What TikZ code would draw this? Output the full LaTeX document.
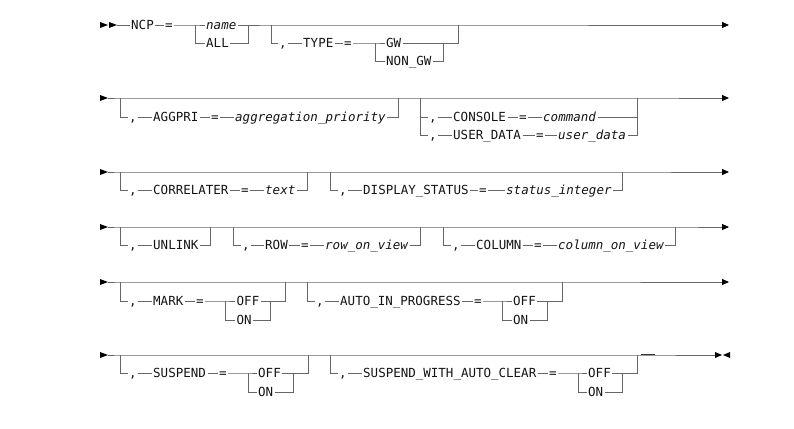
\documentclass[tikz,border=0pt]{standalone}
\usepackage{fontspec}
\usetikzlibrary{arrows.meta}
\newfontfamily\synfont{DejaVu Sans Mono}
\begin{document}
\begin{tikzpicture}[x=1pt,y=-1pt,
  track/.style={draw=black!60,line width=0.8pt},
  ends/.style={track,-{Triangle[length=7pt,width=6pt,color=black]}},
  kw/.style={font=\synfont\fontsize{12.5pt}{14pt}\selectfont,text=black!92,
     inner xsep=1.5pt,inner ysep=0pt,text height=9pt,text depth=0pt,anchor=west},
  var/.style={kw,font=\synfont\itshape\fontsize{12.5pt}{14pt}\selectfont},
  sym/.style={kw,anchor=center},
]
\useasboundingbox (0,0) rectangle (794,428);

% ---------- NCP = name|ALL [,TYPE = GW|NON_GW]
\fill (100,22) -- (108,25) -- (100,28) -- cycle;
\fill (109,22) -- (117,25) -- (109,28) -- cycle;
\coordinate (r1s) at (117,25);
\node[kw] (ncp) at (129.5,25) {NCP};
\node[sym] (eq11) at (169,25) {=};
\coordinate (ch11) at (195,25);
\node[var] (name) at (204.5,25) {name};
\node[kw] (all) at (204.5,43) {ALL};
\coordinate (ch11e) at (248,25);
\coordinate (o11) at (271,25);
\node[sym] (cm11) at (283,43) {,};
\node[kw] (type) at (301.5,43) {TYPE};
\node[sym] (eq12) at (348,43) {=};
\coordinate (ch12) at (375,43);
\node[kw] (gw) at (384.5,43) {GW};
\node[kw] (nongw) at (384.5,61) {NON\_GW};
\coordinate (ch12e) at (443,43);
\coordinate (o11e) at (458,25);
\coordinate (r1e) at (729,25);
\draw[track] (r1s) -- (ncp) -- (eq11) -- (ch11) -- (name) -- (ch11e);
\draw[track] (ch11) |- (all) -| (ch11e);
\draw[ends] (ch11e) -- (o11) -- (o11e) -- (r1e);
\draw[track] (o11) |- (cm11) -- (type) -- (eq12) -- (ch12) -- (gw) -| (o11e);
\draw[track] (ch12) |- (nongw) -| (ch12e);

% ---------- [,AGGPRI = ...] [,CONSOLE = ... | ,USER_DATA = ...]
\fill (100,95) -- (108,98) -- (100,101) -- cycle;
\coordinate (r2s) at (108,98);
\coordinate (o21) at (120,98);
\node[sym] (cm21) at (133,117) {,};
\node[kw] (aggpri) at (151.5,117) {AGGPRI};
\node[sym] (eq21) at (215,117) {=};
\node[var] (aggval) at (233.5,117) {aggregation\_priority};
\coordinate (o21e) at (398,98);
\coordinate (o22) at (420,98);
\node[sym] (cm22) at (433,117) {,};
\node[kw] (console) at (451.5,117) {CONSOLE};
\node[sym] (eq22) at (523,117) {=};
\node[var] (command) at (541.5,117) {command};
\node[sym] (cm23) at (433,135) {,};
\node[kw] (userdata) at (451.5,135) {USER\_DATA};
\node[sym] (eq23) at (540,135) {=};
\node[var] (udval) at (556.5,135) {user\_data};
\coordinate (o22e) at (637,98);
\coordinate (r2e) at (729,98);
\draw[ends] (r2s) -- (o21) -- (o21e) -- (o22) -- (o22e) -- (r2e);
\draw[track] (o21) |- (cm21) -- (aggpri) -- (eq21) -- (aggval) -| (o21e);
\draw[track] (o22) |- (cm22) -- (console) -- (eq22) -- (command) -| (o22e);
\draw[track] (o22) |- (cm23) -- (userdata) -- (eq23) -- (udval) -| (o22e);

% ---------- [,CORRELATER = text] [,DISPLAY_STATUS = status_integer]
\fill (100,169) -- (108,172) -- (100,175) -- cycle;
\coordinate (r3s) at (108,172);
\coordinate (o31) at (120,172);
\node[sym] (cm31) at (133,190) {,};
\node[kw] (correlater) at (151.5,190) {CORRELATER};
\node[sym] (eq31) at (245,190) {=};
\node[var] (textval) at (263.5,190) {text};
\coordinate (o31e) at (307,172);
\coordinate (o32) at (330,172);
\node[sym] (cm32) at (343,190) {,};
\node[kw] (dispstat) at (361.5,190) {DISPLAY\_STATUS};
\node[sym] (eq32) at (483,190) {=};
\node[var] (statint) at (504.5,190) {status\_integer};
\coordinate (o32e) at (622,172);
\coordinate (r3e) at (729,172);
\draw[ends] (r3s) -- (o31) -- (o31e) -- (o32) -- (o32e) -- (r3e);
\draw[track] (o31) |- (cm31) -- (correlater) -- (eq31) -- (textval) -| (o31e);
\draw[track] (o32) |- (cm32) -- (dispstat) -- (eq32) -- (statint) -| (o32e);

% ---------- [,UNLINK] [,ROW = row_on_view] [,COLUMN = column_on_view]
\fill (100,224) -- (108,227) -- (100,230) -- cycle;
\coordinate (r4s) at (108,227);
\coordinate (o41) at (120,227);
\node[sym] (cm41) at (133,245) {,};
\node[kw] (unlink) at (151.5,245) {UNLINK};
\coordinate (o41e) at (210,227);
\coordinate (o42) at (233,227);
\node[sym] (cm42) at (246,245) {,};
\node[kw] (row) at (263.5,245) {ROW};
\node[sym] (eq42) at (305,245) {=};
\node[var] (rowval) at (323.5,245) {row\_on\_view};
\coordinate (o42e) at (420,227);
\coordinate (o43) at (443,227);
\node[sym] (cm43) at (456,245) {,};
\node[kw] (column) at (474.5,245) {COLUMN};
\node[sym] (eq43) at (538,245) {=};
\node[var] (colval) at (556.5,245) {column\_on\_view};
\coordinate (o43e) at (675,227);
\coordinate (r4e) at (729,227);
\draw[ends] (r4s) -- (o41) -- (o41e) -- (o42) -- (o42e) -- (o43) -- (o43e) -- (r4e);
\draw[track] (o41) |- (cm41) -- (unlink) -| (o41e);
\draw[track] (o42) |- (cm42) -- (row) -- (eq42) -- (rowval) -| (o42e);
\draw[track] (o43) |- (cm43) -- (column) -- (eq43) -- (colval) -| (o43e);

% ---------- [,MARK = OFF|ON] [,AUTO_IN_PROGRESS = OFF|ON]
\fill (100,279) -- (108,282) -- (100,285) -- cycle;
\coordinate (r5s) at (108,282);
\coordinate (o51) at (120,282);
\node[sym] (cm51) at (133,301) {,};
\node[kw] (mark) at (151.5,301) {MARK};
\node[sym] (eq51) at (200,301) {=};
\coordinate (ch51) at (225,301);
\node[kw] (off51) at (235,301) {OFF};
\node[kw] (on51) at (235,320) {ON};
\coordinate (ch51e) at (270,301);
\coordinate (o51e) at (285,282);
\coordinate (o52) at (307,282);
\node[sym] (cm52) at (320,301) {,};
\node[kw] (autoip) at (338.5,301) {AUTO\_IN\_PROGRESS};
\node[sym] (eq52) at (478,301) {=};
\coordinate (ch52) at (502,301);
\node[kw] (off52) at (511.5,301) {OFF};
\node[kw] (on52) at (511.5,320) {ON};
\coordinate (ch52e) at (547,301);
\coordinate (o52e) at (562,282);
\coordinate (r5e) at (729,282);
\draw[ends] (r5s) -- (o51) -- (o51e) -- (o52) -- (o52e) -- (r5e);
\draw[track] (o51) |- (cm51) -- (mark) -- (eq51) -- (ch51) -- (off51) -| (o51e);
\draw[track] (ch51) |- (on51) -| (ch51e);
\draw[track] (o52) |- (cm52) -- (autoip) -- (eq52) -- (ch52) -- (off52) -| (o52e);
\draw[track] (ch52) |- (on52) -| (ch52e);

% ---------- [,SUSPEND = OFF|ON] [,SUSPEND_WITH_AUTO_CLEAR = OFF|ON]
\fill (100,352) -- (108,355) -- (100,358) -- cycle;
\coordinate (r6s) at (108,355);
\coordinate (o61) at (120,355);
\node[sym] (cm61) at (133,373) {,};
\node[kw] (suspend) at (151.5,373) {SUSPEND};
\node[sym] (eq61) at (223,373) {=};
\coordinate (ch61) at (248,373);
\node[kw] (off61) at (256.5,373) {OFF};
\node[kw] (on61) at (256.5,392) {ON};
\coordinate (ch61e) at (293,373);
\coordinate (o61e) at (308,355);
\coordinate (o62) at (330,355);
\node[sym] (cm62) at (343,373) {,};
\node[kw] (swac) at (361.5,373) {SUSPEND\_WITH\_AUTO\_CLEAR};
\node[sym] (eq62) at (553,373) {=};
\coordinate (ch62) at (578,373);
\node[kw] (off62) at (586.5,373) {OFF};
\node[kw] (on62) at (586.5,392) {ON};
\coordinate (ch62e) at (622,373);
\coordinate (o62e) at (637,355);
\coordinate (r6e) at (715,355);
\draw[track] (r6s) -- (o61) -- (o61e) -- (o62) -- (o62e) -- (r6e);
\draw[track] (o61) |- (cm61) -- (suspend) -- (eq61) -- (ch61) -- (off61) -| (o61e);
\draw[track] (ch61) |- (on61) -| (ch61e);
\draw[track] (o62) |- (cm62) -- (swac) -- (eq62) -- (ch62) -- (off62) -| (o62e);
\draw[track] (ch62) |- (on62) -| (ch62e);
\draw[black!80,line width=1.1pt] (641,354.6) -- (655,354.6);
% end of statement
\fill (715,352) -- (722,355) -- (715,358) -- cycle;
\fill (730,352) -- (723,355) -- (730,358) -- cycle;
\end{tikzpicture}
\end{document}
